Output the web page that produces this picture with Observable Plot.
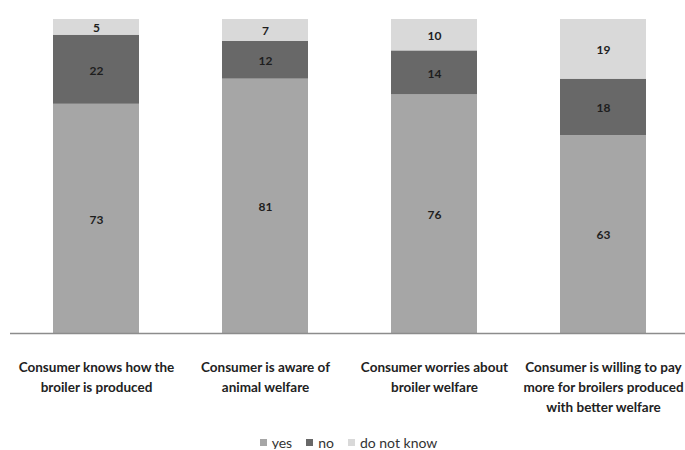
<!DOCTYPE html>
<html>
<head>
<meta charset="utf-8">
<script src="https://cdn.jsdelivr.net/npm/d3@7"></script>
<script src="https://cdn.jsdelivr.net/npm/@observablehq/plot@0.6"></script>
<style>
  html, body { margin: 0; padding: 0; background: #fff; }
  #chart { width: 685px; }
  .legend {
    display: flex; justify-content: center; align-items: center; gap: 14px;
    font-family: Lato, "Open Sans", sans-serif; font-size: 14px; color: #333;
    margin-top: 8px; line-height: 13px; padding-left: 12px;
  }
  .legend span.item { display: inline-flex; align-items: center; gap: 5px; }
  .legend i { display: inline-block; width: 7px; height: 7px; }
</style>
</head>
<body>
<div id="chart"></div>
<script>
// Survey statements (x categories) and answer shares in percent
const statements = [
  "Consumer knows how the\nbroiler is produced",
  "Consumer is aware of\nanimal welfare",
  "Consumer worries about\nbroiler welfare",
  "Consumer is willing to pay\nmore for broilers produced\nwith better welfare"
];
const answers = ["yes", "no", "do not know"];
const yesValues = [73, 81, 76, 63];
const noValues = [22, 12, 14, 18];
const dontKnowValues = [5, 7, 10, 19];
const answerColors = ["#a6a6a6", "#686868", "#d9d9d9"];

// Long table: one row per statement and answer, "yes" first so it stacks at the bottom
const series = [yesValues, noValues, dontKnowValues];
const rows = [];
statements.forEach((s, i) => {
  answers.forEach((a, j) => rows.push({statement: s, answer: a, value: series[j][i]}));
});

const chart = Plot.plot({
  width: 685,
  height: 428,
  marginTop: 19,
  marginBottom: 95,
  marginLeft: 10,
  marginRight: 0,
  style: {fontFamily: "Lato, 'Open Sans', sans-serif", background: "#fff"},
  x: {domain: statements, range: [10, 689], paddingInner: 0.49, paddingOuter: 0.245, label: null},
  y: {domain: [0, 100], axis: null},
  color: {domain: answers, range: answerColors},
  marks: [
    Plot.barY(rows, {x: "statement", y: "value", fill: "answer", z: "answer"}),
    Plot.text(rows, Plot.stackY({
      x: "statement", y: "value", z: "answer", text: d => String(d.value),
      fill: "#1e1e1e", fontSize: 12, fontWeight: "bold", dy: 1
    })),
    Plot.ruleY([0], {stroke: "#8c8c8c", strokeWidth: 1.5}),
    Plot.axisX({
      tickSize: 0, tickPadding: 24, fontSize: 13.5, fontWeight: "bold",
      lineHeight: 1.48, fill: "#222", label: null
    })
  ]
});
document.getElementById("chart").append(chart);

// Legend below the plot
const legend = document.createElement("div");
legend.className = "legend";
answers.forEach((a, j) => {
  const item = document.createElement("span");
  item.className = "item";
  const sw = document.createElement("i");
  sw.style.background = answerColors[j];
  item.append(sw, document.createTextNode(a));
  legend.append(item);
});
document.getElementById("chart").append(legend);
</script>
</body>
</html>
